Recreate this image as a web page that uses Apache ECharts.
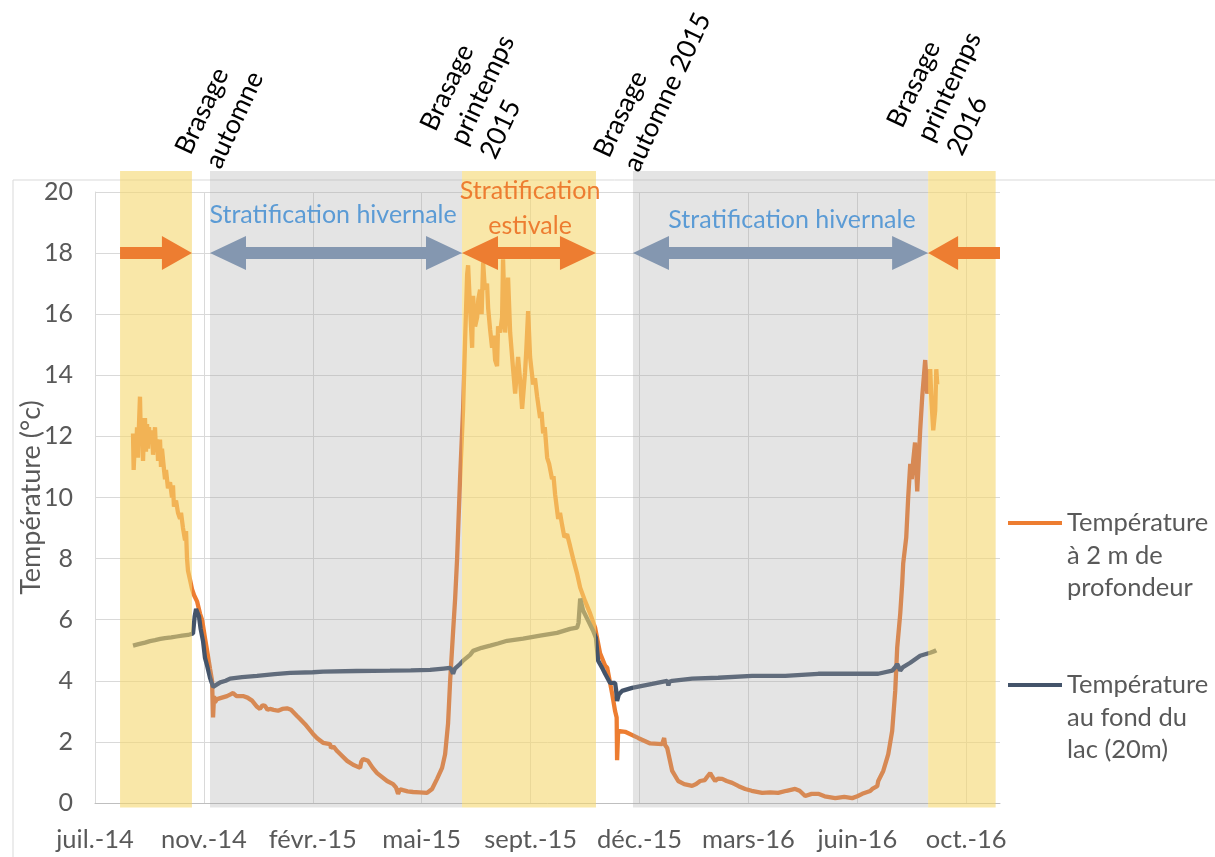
<!DOCTYPE html>
<html><head><meta charset="utf-8">
<script src="https://cdn.jsdelivr.net/npm/echarts@6/dist/echarts.min.js"></script>
<style>html,body{margin:0;padding:0;background:#fff;}#c{width:1215px;height:857px;}</style>
</head><body><div id="c"></div>
<script>
// Axe des x : jours depuis le 29/07/2014
const ORIGINE = Date.UTC(2014, 6, 29);
const mois = ['janv.','févr.','mars','avr.','mai','juin','juil.','août','sept.','oct.','nov.','déc.'];
const nomsSeries = ['Température à 2 m de profondeur', 'Température au fond du lac (20m)'];
const legendeTextes = ['Température\nà 2 m de\nprofondeur', 'Température\nau fond du\nlac (20m)'];

// [jour, °C]
const temp2m = [
[34.9,12.1],[35.5,10.9],[36.7,11.9],[37.6,11.4],[38.6,12.3],[39.5,11.3],[40.4,12.4],[41.3,13.3],[42.2,11.8],[43.2,12.6],[44.1,11.2],[45.0,12.2],[45.9,12.6],[46.8,11.5],[47.8,12.4],[48.7,11.6],[49.6,12.3],[50.5,11.8],[52.4,12.2],[53.3,11.4],[55.1,12.3],[56.0,11.5],[57.0,11.9],[57.9,11.2],[59.7,11.9],[60.6,11.0],[61.5,11.6],[63.4,10.9],[64.3,10.6],[65.2,10.9],[67.0,10.3],[68.9,10.5],[70.7,10.0],[71.6,10.4],[72.5,9.7],[74.4,9.9],[76.2,9.5],[78.1,9.3],[79.0,9.5],[80.8,9.0],[82.7,8.6],[83.6,8.9],[84.5,8.0],[85.4,7.6],[87.3,7.3],[89.1,7.0],[91.0,6.8],[93.7,6.6],[96.4,6.2],[98.3,6.0],[101.0,5.4],[102.9,5.0],[105.6,4.4],[107.5,4.0],[108.4,2.8],[109.3,3.5],[110.2,3.3],[112.1,3.4],[116.6,3.45],[121.2,3.5],[124.0,3.55],[126.8,3.6],[130.0,3.5],[135.9,3.5],[140.0,3.45],[144.2,3.35],[148.8,3.15],[151.5,3.08],[153.8,3.2],[156.1,3.18],[158.4,3.05],[160.7,3.08],[164.0,3.05],[168.1,3.02],[172.0,3.08],[176.3,3.1],[180.0,3.05],[185.5,2.85],[188.3,2.75],[192.9,2.58],[200.2,2.26],[204.0,2.12],[209.4,1.97],[215.8,1.93],[216.7,1.8],[217.7,1.77],[219.0,1.85],[222.3,1.7],[231.5,1.38],[237.0,1.25],[243.4,1.15],[244.5,1.35],[246.2,1.44],[250.7,1.38],[255.0,1.15],[259.0,0.98],[268.2,0.72],[273.7,0.62],[276.5,0.5],[278.3,0.3],[280.1,0.45],[282.9,0.42],[287.0,0.38],[292.1,0.36],[298.0,0.35],[304.9,0.33],[309.5,0.46],[314.1,0.79],[318.7,1.15],[321.5,1.6],[324.2,2.6],[326.1,4.0],[328.8,5.6],[330.7,6.7],[332.5,8.0],[335.2,10.6],[338.0,12.9],[339.8,15.1],[341.7,17.3],[342.6,17.6],[344.4,16.2],[346.3,14.9],[347.2,16.6],[349.0,15.6],[350.9,15.9],[352.0,16.5],[353.6,16.8],[355.0,16.0],[356.4,17.7],[358.0,16.8],[360.0,17.0],[361.0,16.2],[362.8,15.5],[364.6,14.9],[366.0,15.3],[367.4,14.5],[369.2,14.3],[370.1,15.6],[372.0,15.4],[373.8,15.9],[374.7,17.8],[376.6,15.4],[378.4,16.5],[379.3,17.2],[381.2,15.4],[383.9,14.2],[385.8,13.4],[388.5,14.6],[390.4,13.8],[392.2,12.9],[394.9,14.1],[396.0,14.8],[397.7,16.1],[399.5,14.6],[402.3,13.7],[404.0,13.9],[406.0,13.3],[408.7,12.6],[410.0,12.8],[411.5,12.1],[413.0,12.3],[415.2,11.3],[417.0,11.1],[419.7,10.6],[421.0,10.7],[422.5,10.1],[425.3,9.3],[427.0,9.5],[428.9,9.1],[431.0,8.7],[433.5,8.8],[436.3,8.4],[439.0,8.0],[442.7,7.5],[445.5,7.05],[450.1,6.6],[454.7,6.2],[459.2,5.74],[463.8,4.9],[468.4,4.5],[470.3,4.43],[474.9,3.57],[477.6,3.0],[479.0,2.8],[479.4,1.4],[480.4,2.36],[486.8,2.33],[498.7,2.13],[509.8,1.95],[520.8,1.93],[522.6,2.13],[523.5,1.9],[525.4,1.8],[530.0,1.05],[535.5,0.72],[541.0,0.62],[548.3,0.56],[552.0,0.62],[555.7,0.72],[560.0,0.75],[562.0,0.85],[564.9,0.98],[567.0,0.85],[569.5,0.72],[572.0,0.8],[575.9,0.79],[580.0,0.72],[585.1,0.66],[591.0,0.55],[597.0,0.46],[603.0,0.4],[612.6,0.33],[620.0,0.35],[627.3,0.33],[635.0,0.4],[642.9,0.46],[647.0,0.4],[652.1,0.23],[658.0,0.3],[664.1,0.3],[670.0,0.22],[679.7,0.16],[688.0,0.2],[695.3,0.16],[700.0,0.22],[704.5,0.3],[711.8,0.39],[713.7,0.46],[718.3,0.55],[719.2,0.72],[723.8,1.05],[727.4,1.48],[728.4,1.6],[732.0,2.36],[734.8,3.67],[736.6,5.08],[739.4,6.2],[741.2,7.18],[742.1,7.84],[744.9,8.69],[746.7,10.0],[748.6,11.1],[750.0,10.6],[751.3,11.2],[753.0,11.8],[755.0,10.2],[757.7,12.2],[759.6,13.3],[762.3,14.5],[764.2,13.4],[766.9,14.2],[768.0,13.2],[769.7,12.2],[771.5,12.85],[772.5,14.2],[773.4,13.7]
];
const temp20m = [
[34.9,5.15],[40.0,5.2],[45.9,5.25],[50.5,5.3],[55.1,5.33],[60.0,5.37],[64.3,5.4],[70.0,5.42],[75.0,5.45],[80.0,5.48],[85.4,5.5],[90.0,5.55],[91.5,6.1],[92.8,6.35],[93.7,6.3],[95.5,6.1],[97.0,5.7],[99.2,5.3],[101.0,4.75],[102.9,4.5],[105.6,4.1],[107.5,3.9],[108.4,3.8],[110.2,3.85],[115.0,3.95],[120.0,4.0],[124.0,4.07],[135.0,4.12],[148.8,4.16],[165.0,4.22],[179.1,4.26],[200.0,4.28],[209.4,4.3],[240.0,4.32],[270.9,4.33],[290.0,4.34],[307.7,4.36],[320.0,4.4],[326.1,4.42],[327.5,4.35],[328.8,4.23],[330.5,4.4],[335.2,4.55],[338.0,4.66],[344.4,4.85],[347.2,4.98],[355.0,5.08],[362.8,5.15],[370.0,5.22],[378.4,5.31],[393.1,5.38],[408.7,5.48],[424.3,5.57],[436.3,5.7],[442.7,5.74],[444.0,5.9],[445.5,6.69],[448.2,6.3],[452.8,5.97],[457.4,5.64],[460.0,5.4],[461.1,4.98],[462.0,4.66],[466.0,4.4],[468.4,4.23],[473.0,3.93],[477.6,3.93],[478.5,3.7],[479.4,3.34],[481.0,3.55],[484.0,3.67],[493.2,3.77],[511.6,3.9],[525.4,4.0],[526.5,3.85],[527.4,3.97],[530.0,4.0],[548.3,4.07],[572.2,4.1],[603.4,4.16],[633.8,4.16],[664.1,4.23],[695.3,4.23],[719.2,4.23],[732.0,4.33],[735.0,4.45],[736.6,4.55],[738.0,4.45],[739.4,4.33],[742.0,4.45],[748.6,4.59],[757.7,4.82],[766.9,4.92],[771.5,4.98],[772.5,5.0]
];

// Périodes [début, fin, bas, haut, type 0=brasage/estivale 1=hivernale]
const periodes = [[23,89,-0.15,20.69,0],[105.6,337,-0.15,20.69,1],[337,460,-0.15,20.69,0],[494,765,-0.15,20.69,1],[765,827,-0.15,20.69,0]];
// Flèches [de, à (pointe), y, double, type]
const fleches = [[23,89,18,false,0],[105.6,337,18,true,1],[337,460,18,true,0],[494,765,18,true,1],[831,765,18,false,0]];
// Textes de périodes [texte, x, y, type]
const textesPeriodes = [['Stratification hivernale',218.6,19.25,1],['Stratification\nestivale',399.5,19.45,0],['Stratification hivernale',640,19.1,1]];
// Annotations inclinées [texte, x, y]
const annotations = [['Brasage\nautomne',94.3,21.06],['Brasage\nprintemps\n2015',333.0,21.6],['Brasage\nautomne 2015',478.5,20.96],['Brasage\nprintemps\n2016',761.6,21.71]];

const FONT = 'Lato';
const bandColors = ['rgba(245,215,110,0.6)', 'rgba(165,165,165,0.3)'];
const arrowColors = ['#ED7D31', '#8497B0'];
const textColors = ['#ED7D31', '#5B9BD5'];

const chart = echarts.init(document.getElementById('c'));
const option = {
  animation: false,
  backgroundColor: '#fff',
  textStyle: {fontFamily: FONT},
  grid: {left: 95, right: 215, top: 192, bottom: 54, containLabel: false, outerBoundsMode: 'none'},
  xAxis: {
    type: 'value', min: 0, max: 831, interval: 100,
    axisLine: {show: true, onZero: false, lineStyle: {color: '#BFBFBF', width: 1}},
    axisTick: {show: false},
    splitLine: {show: true, showMinLine: false, showMaxLine: false, lineStyle: {color: '#D9D9D9', width: 1}},
    axisLabel: {
      margin: 24, color: '#595959', fontSize: 25.5, fontFamily: FONT, showMaxLabel: false,
      formatter: v => {
        if (Math.round(v) % 100 !== 0) return '';
        const d = new Date(ORIGINE + v * 86400000);
        return mois[d.getUTCMonth()] + '-' + String(d.getUTCFullYear()).slice(2);
      }
    }
  },
  yAxis: {
    type: 'value', min: 0, max: 20, interval: 2,
    name: 'Température (°c)', nameLocation: 'middle', nameGap: 50, nameMoveOverlap: false,
    nameTextStyle: {color: '#595959', fontSize: 27, fontFamily: FONT},
    axisLine: {show: true, lineStyle: {color: '#D9D9D9', width: 1}},
    axisTick: {show: false},
    splitLine: {show: true, lineStyle: {color: '#D9D9D9', width: 1}},
    axisLabel: {margin: 22, color: '#595959', fontSize: 25, fontFamily: FONT}
  },
  legend: {
    orient: 'vertical', left: 1008, top: 506.75, padding: 0, itemGap: 64.5,
    itemWidth: 54, itemHeight: 69, icon: 'path://M0,0H54V4H0Z M0,68.99H0.01V69H0Z',
    itemStyle: {borderWidth: 0},
    textStyle: {color: '#595959', fontSize: 25.5, fontFamily: FONT, lineHeight: 32.5},
    formatter: name => legendeTextes[nomsSeries.indexOf(name)],
    data: nomsSeries
  },
  series: [
    {name: nomsSeries[0], type: 'line', data: temp2m, showSymbol: false, symbol: 'none', z: 2,
     color: '#ED7D31', lineStyle: {color: '#ED7D31', width: 4.3}},
    {name: nomsSeries[1], type: 'line', data: temp20m, showSymbol: false, symbol: 'none', z: 2,
     color: '#44546A', lineStyle: {color: '#44546A', width: 4.3}},
    {type: 'custom', data: periodes, z: 3, clip: false, silent: true,
     encode: {x: [0, 1], y: [2, 3]},
     renderItem: (params, api) => {
       const p1 = api.coord([api.value(0), api.value(3)]);
       const p2 = api.coord([api.value(1), api.value(2)]);
       return {type: 'rect', shape: {x: p1[0], y: p1[1], width: p2[0] - p1[0], height: p2[1] - p1[1]},
               style: {fill: bandColors[api.value(4)]}};
     }}
  ]
};
chart.setOption(option);

const px = (x, y) => chart.convertToPixel({gridIndex: 0}, [x, y]);
const graphics = [];
// cadre
graphics.push({type: 'rect', left: 10.5, top: 177.5, shape: {x: 0, y: 0, width: 1220, height: 700}, style: {fill: 'none', stroke: '#D9D9D9', lineWidth: 1}, z: -1});
fleches.forEach(f => {
  const a = px(f[0], f[2]), b = px(f[1], f[2]);
  const xs = a[0], xe = b[0], y = a[1];
  const dir = Math.sign(xe - xs);
  const L = f[3] ? 36 : 30, H = 17, W = 6;
  let pts;
  if (f[3]) {
    pts = [[xs, y], [xs + dir * L, y - H], [xs + dir * L, y - W], [xe - dir * L, y - W], [xe - dir * L, y - H], [xe, y],
           [xe - dir * L, y + H], [xe - dir * L, y + W], [xs + dir * L, y + W], [xs + dir * L, y + H]];
  } else {
    pts = [[xs, y - W], [xe - dir * L, y - W], [xe - dir * L, y - H], [xe, y], [xe - dir * L, y + H], [xe - dir * L, y + W], [xs, y + W]];
  }
  graphics.push({type: 'polygon', shape: {points: pts}, style: {fill: arrowColors[f[4]]}, z: 10});
});
textesPeriodes.forEach(t => {
  const p = px(t[1], t[2]);
  graphics.push({type: 'text', x: p[0], y: p[1], z: 11,
    style: {text: t[0], fill: textColors[t[3]], font: '25px ' + FONT, align: 'center', verticalAlign: 'middle', lineHeight: 35}});
});
annotations.forEach(t => {
  const p = px(t[1], t[2]);
  graphics.push({type: 'text', x: p[0], y: p[1], rotation: 65 * Math.PI / 180, z: 11,
    style: {text: t[0], fill: '#000', font: '26.5px ' + FONT, align: 'left', verticalAlign: 'middle', lineHeight: 33}});
});
chart.setOption({graphic: graphics});
</script>
</body></html>
